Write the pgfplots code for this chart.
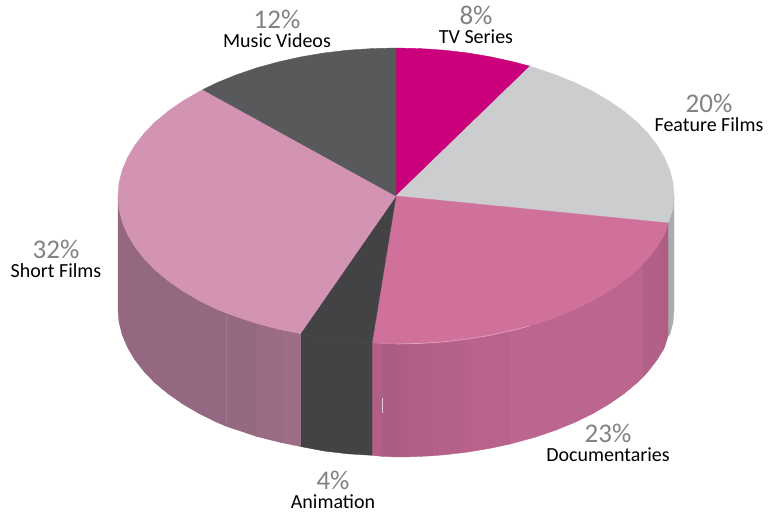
\documentclass[border=0pt]{standalone}
\usepackage{pgfplots}
\pgfplotsset{compat=1.18}
\usepackage{fontspec}
\setmainfont{Carlito}
\definecolor{tvtop}{HTML}{CB007B}
\definecolor{fftop}{HTML}{CCCDCF}
\definecolor{fdside}{HTML}{A9ABAE}
\definecolor{doctop}{HTML}{CF719B}
\definecolor{antop}{HTML}{434345}
\definecolor{sftop}{HTML}{D393B2}
\definecolor{mvtop}{HTML}{58595B}
\definecolor{pct}{HTML}{808285}
\newcommand{\slicelabel}[4]{%
  \node[inner sep=0pt,font=\fontsize{27bp}{27bp}\selectfont,text=pct] at (axis cs:#1,#2-10.5) {#3};
  \node[inner sep=0pt,font=\fontsize{20bp}{20bp}\selectfont,text=black] at (axis cs:#1,#2+10.5) {#4};
}
\begin{document}
\begin{tikzpicture}
\path[use as bounding box] (0,0) rectangle (779bp,512bp);
\begin{axis}[
  at={(0,0)}, anchor=south west,
  scale only axis, width=779bp, height=512bp,
  xmin=0, xmax=779, ymin=0, ymax=512, y dir=reverse,
  hide axis, clip=false,
  every axis plot/.append style={line width=0.4bp, line join=round},
]
% side wall: Feature Films
\addplot[fill=fdside, draw=fdside] coordinates {
 (668,223) (673,208.9) (674,196) (674,309) (673,321.9) (669.8,334.7) (668,336)
} --cycle;
% side wall: Documentaries, in vertical bands
\addplot[fill={rgb,255:red,177;green,95;blue,133}, draw={rgb,255:red,177;green,95;blue,133}] coordinates {
 (372,342.8) (382,343.8) (382,456.3) (372,455.3)
} --cycle;
\addplot[fill={rgb,255:red,173;green,92;blue,131}, draw={rgb,255:red,173;green,92;blue,131}] coordinates {
 (382,343.8) (396,344) (407,343.9) (407,456.9) (396,457) (382,456.3)
} --cycle;
\addplot[fill={rgb,255:red,177;green,95;blue,135}, draw={rgb,255:red,177;green,95;blue,135}] coordinates {
 (407,343.9) (420.2,343.4) (433,342.7) (433,455.7) (420.2,456.4) (407,456.9)
} --cycle;
\addplot[fill={rgb,255:red,181;green,97;blue,138}, draw={rgb,255:red,181;green,97;blue,138}] coordinates {
 (433,342.7) (444.3,341.8) (465,339.4) (465,452.4) (444.3,454.8) (433,455.7)
} --cycle;
\addplot[fill={rgb,255:red,185;green,99;blue,140}, draw={rgb,255:red,185;green,99;blue,140}] coordinates {
 (465,339.4) (467.9,339) (491.1,335.1) (510,331) (510,444) (491.1,448.1) (467.9,452) (465,452.4)
} --cycle;
\addplot[fill={rgb,255:red,188;green,101;blue,142}, draw={rgb,255:red,188;green,101;blue,142}] coordinates {
 (510,331) (513.5,330.1) (535,324.2) (555.5,317.2) (574.7,309.4) (592.6,300.7) (609,291.1) (623.7,280.9) (636.8,270) (643,263.9)
 (643,376.9) (636.8,383) (623.7,393.9) (609,404.1) (592.6,413.7) (574.7,422.4) (555.5,430.2) (535,437.2) (513.5,443.1) (510,444)
} --cycle;
\addplot[fill={rgb,255:red,178;green,96;blue,136}, draw={rgb,255:red,178;green,96;blue,136}] coordinates {
 (643,263.9) (648,258.5) (657.2,246.6) (663,237.2) (663,350.2) (657.2,359.6) (648,371.5) (643,376.9)
} --cycle;
\addplot[fill={rgb,255:red,174;green,93;blue,132}, draw={rgb,255:red,174;green,93;blue,132}] coordinates {
 (663,237.2) (664.5,234.3) (668,223) (668,336) (664.5,347.3) (663,350.2)
} --cycle;
% side wall: Animation
\addplot[fill=antop, draw=antop] coordinates {
 (300.5,333.5) (324.1,338.5) (347.7,341.3) (372,342.8) (372,455.3) (347.7,453.8) (324.1,451) (300.5,446.5)
} --cycle;
% side wall: Short Films, in vertical bands
\addplot[fill={rgb,255:red,147;green,104;blue,128}, draw={rgb,255:red,147;green,104;blue,128}] coordinates {
 (118,196) (119,208.9) (122.2,221.7) (127.5,234.3) (134.8,246.6) (144,258.5) (155.2,270) (168.3,280.9) (183,291.1) (199.4,300.7) (217.3,309.4) (226.7,313.4)
 (226.7,426.4) (217.3,422.4) (199.4,413.7) (183,404.1) (168.3,393.9) (155.2,383) (144,371.5) (134.8,359.6) (127.5,347.3) (122.2,334.7) (119,321.9) (118,309)
} --cycle;
\addplot[fill={rgb,255:red,149;green,105;blue,128}, draw={rgb,255:red,149;green,105;blue,128}] coordinates {
 (226.7,313.4) (236.5,316.7) (257,323.5) (257,436.5) (236.5,429.7) (226.7,426.4)
} --cycle;
\addplot[fill={rgb,255:red,154;green,107;blue,131}, draw={rgb,255:red,154;green,107;blue,131}] coordinates {
 (257,323.5) (278.5,329.2) (283,330.2) (283,442.9) (278.5,441.9) (257,436.5)
} --cycle;
\addplot[fill={rgb,255:red,158;green,109;blue,135}, draw={rgb,255:red,158;green,109;blue,135}] coordinates {
 (283,330.2) (300.5,333.5) (300.5,446.5) (283,442.9)
} --cycle;
% top face: TV Series
\addplot[fill=tvtop, draw=tvtop] coordinates {
 (396,196) (396,48) (420.2,48.6) (444.3,50.2) (467.9,53) (491.1,56.9) (513.5,61.9) (530,66.2)
} --cycle;
% top face: Feature Films
\addplot[fill=fftop, draw=fftop] coordinates {
 (396,196) (530,66.2) (535,67.8) (555.5,74.8) (574.7,82.6) (592.6,91.3) (609,100.9) (623.7,111.1) (636.8,122) (648,133.5) (657.2,145.4) (664.5,157.7) (669.8,170.3) (673,183.1) (674,196) (673,208.9) (668,223)
} --cycle;
% top face: Documentaries
\addplot[fill=doctop, draw=doctop] coordinates {
 (396,196) (668,223) (664.5,234.3) (657.2,246.6) (648,258.5) (636.8,270) (623.7,280.9) (609,291.1) (592.6,300.7) (574.7,309.4) (555.5,317.2) (535,324.2) (513.5,330.1) (491.1,335.1) (467.9,339) (444.3,341.8) (420.2,343.4) (396,344) (372,342.8)
} --cycle;
% top face: Animation
\addplot[fill=antop, draw=antop] coordinates {
 (396,196) (372,342.8) (347.7,341.3) (324.1,338.5) (300.5,333.5)
} --cycle;
% top face: Short Films
\addplot[fill=sftop, draw=sftop] coordinates {
 (396,196) (300.5,333.5) (278.5,329.2) (257,323.5) (236.5,316.7) (217.3,309.4) (199.4,300.7) (183,291.1) (168.3,280.9) (155.2,270) (144,258.5) (134.8,246.6) (127.5,234.3) (122.2,221.7) (119,208.9) (118,196) (119,183.1) (122.2,170.3) (127.5,157.7) (134.8,145.4) (144,133.5) (155.2,122) (168.3,111.1) (183,100.9) (202.8,89.6)
} --cycle;
% top face: Music Videos
\addplot[fill=mvtop, draw=mvtop] coordinates {
 (396,196) (202.8,89.6) (217.3,82.6) (236.5,74.8) (257,67.8) (278.5,61.9) (300.9,56.9) (324.1,53) (347.7,50.2) (371.8,48.6) (396,48)
} --cycle;
% faint highlights along the front rim
\addplot[draw={rgb,255:red,224;green,160;blue,190}, line width=0.7bp] coordinates {
 (396,344) (420.2,343.4) (444.3,341.8) (467.9,339) (491.1,335.1) (513.5,330.1) (530,325.8)
};
\addplot[draw={rgb,255:red,230;green,200;blue,215}, line width=0.8bp] coordinates {(382,398) (382,413)};
% category labels
\slicelabel{277}{30}{12\%}{Music Videos}
\slicelabel{476}{26}{8\%}{TV Series}
\slicelabel{709}{114}{20\%}{Feature Films}
\slicelabel{56}{260}{32\%}{Short Films}
\slicelabel{608}{444}{23\%}{Documentaries}
\slicelabel{333}{491}{4\%}{Animation}
\end{axis}
\end{tikzpicture}
\end{document}
